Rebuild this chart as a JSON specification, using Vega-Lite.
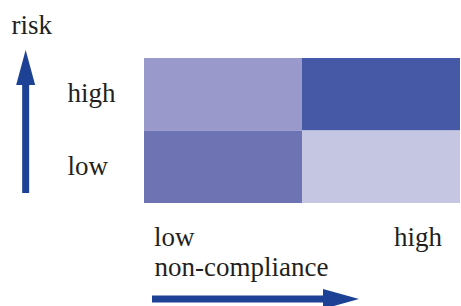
{
  "$schema": "https://vega.github.io/schema/vega-lite/v6.json",
  "width": 316,
  "height": 145,
  "autosize": {"type": "none"},
  "padding": {"left": 144, "top": 58, "right": 1, "bottom": 103},
  "background": "white",
  "config": {
    "view": {"stroke": null},
    "font": "Liberation Serif",
    "axis": {
      "domain": false, "ticks": false, "grid": false,
      "labelFont": "Liberation Serif", "labelFontSize": 27, "labelColor": "#231F20",
      "titleFont": "Liberation Serif", "titleFontSize": 27, "titleColor": "#231F20", "titleFontWeight": "normal"
    }
  },
  "resolve": {"scale": {"x": "independent", "y": "independent"}},
  "layer": [
    {
      "data": {"values": [
        {"nonCompliance": "low", "risk": "high", "cell": "A"},
        {"nonCompliance": "high", "risk": "high", "cell": "B"},
        {"nonCompliance": "low", "risk": "low", "cell": "C"},
        {"nonCompliance": "high", "risk": "low", "cell": "D"}
      ]},
      "mark": {"type": "rect"},
      "encoding": {
        "x": {
          "field": "nonCompliance", "type": "nominal",
          "scale": {"domain": ["low", "high"], "paddingInner": 0, "paddingOuter": 0},
          "axis": {
            "title": "non-compliance", "labelAngle": 0,
            "labelPadding": 42, "labelBaseline": "alphabetic",
            "labelAlign": {"condition": {"test": "datum.value == 'low'", "value": "left"}, "value": "right"},
            "labelOffset": {"condition": {"test": "datum.value == 'low'", "value": -69}, "value": 61},
            "titleX": 10, "titleY": 72, "titleAlign": "left", "titleBaseline": "alphabetic", "titleAnchor": "start"
          }
        },
        "y": {
          "field": "risk", "type": "nominal",
          "scale": {"domain": ["high", "low"], "paddingInner": 0, "paddingOuter": 0},
          "axis": {
            "title": "risk", "labelAlign": "left", "labelPadding": 77, "labelBaseline": "middle",
            "titleAngle": 0, "titleX": -133, "titleY": -25, "titleAlign": "left", "titleBaseline": "alphabetic"
          }
        },
        "color": {
          "field": "cell", "type": "nominal",
          "scale": {"domain": ["A", "B", "C", "D"], "range": ["#9999CB", "#4659A6", "#6E74B3", "#C5C6E2"]},
          "legend": null
        }
      }
    },
    {
      "data": {"values": [{}]},
      "layer": [
        {
          "mark": {"type": "rule", "color": "#1D4194", "strokeWidth": 7, "strokeCap": "butt"},
          "encoding": {
            "x": {"datum": -0.749, "type": "quantitative", "scale": {"domain": [0, 2], "nice": false, "zero": false}, "axis": null},
            "y": {"datum": 0.138, "type": "quantitative", "scale": {"domain": [0, 2], "nice": false, "zero": false}, "axis": null},
            "y2": {"datum": 1.697}
          }
        },
        {
          "mark": {"type": "point", "filled": true, "color": "#1D4194", "opacity": 1, "size": 1225, "shape": "M0,-1L0.543,1L-0.543,1Z"},
          "encoding": {
            "x": {"datum": -0.749, "type": "quantitative"},
            "y": {"datum": 1.869, "type": "quantitative"}
          }
        },
        {
          "mark": {"type": "rule", "color": "#1D4194", "strokeWidth": 7, "strokeCap": "butt"},
          "encoding": {
            "x": {"datum": 0.0506, "type": "quantitative"},
            "x2": {"datum": 1.177},
            "y": {"datum": -1.324, "type": "quantitative"}
          }
        },
        {
          "mark": {"type": "point", "filled": true, "color": "#1D4194", "opacity": 1, "size": 1296, "shape": "M1,0L-1,0.556L-1,-0.556Z"},
          "encoding": {
            "x": {"datum": 1.247, "type": "quantitative"},
            "y": {"datum": -1.324, "type": "quantitative"}
          }
        }
      ]
    }
  ]
}
